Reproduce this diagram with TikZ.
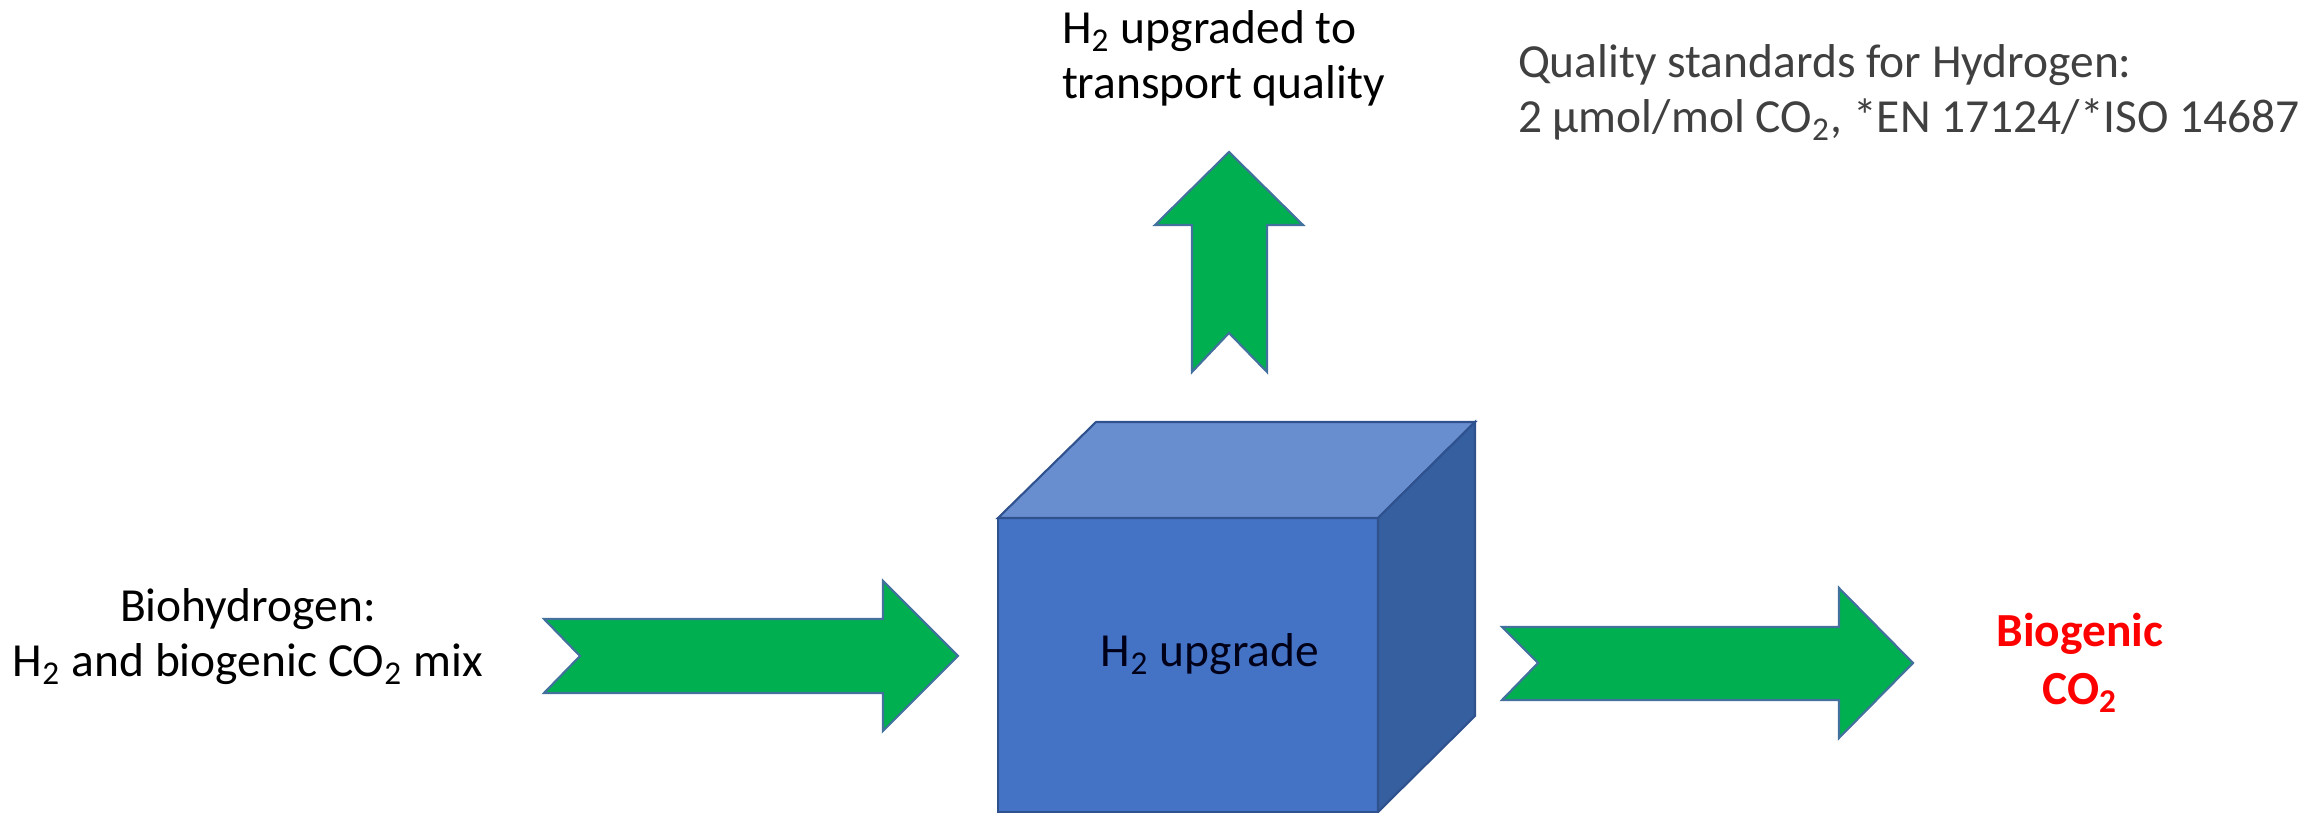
\documentclass[tikz,border=0pt]{standalone}
\usepackage{fontspec}
\setmainfont{Carlito}
\definecolor{arrgreen}{HTML}{00B050}
\definecolor{arredge}{HTML}{41719C}
\definecolor{cubefront}{HTML}{4472C4}
\definecolor{cubetop}{HTML}{698ED0}
\definecolor{cubeside}{HTML}{365F9F}
\definecolor{cubeedge}{HTML}{2F528F}
\definecolor{greytext}{HTML}{404040}
\definecolor{redtext}{HTML}{FF0000}
\begin{document}
\begin{tikzpicture}[x=0.01cm,y=-0.01cm,
  flowarrow/.style={fill=arrgreen, draw=arredge, line width=0.6pt, line join=miter},
  cubeface/.style={draw=cubeedge, line width=0.6pt, line join=miter},
  lbl/.style={font=\fontsize{13.5}{15.65}\selectfont, inner sep=0pt, outer sep=0pt}]
\useasboundingbox (0,0) rectangle (2320,813);

% cube
\coordinate (fTL) at (998,518);
\coordinate (fTR) at (1378,518);
\coordinate (fBR) at (1378,812);
\coordinate (fBL) at (998,812);
\coordinate (bTL) at (1096,422);
\coordinate (bTR) at (1475,422);
\coordinate (bBR) at (1475,716);
\fill[cubefront, cubeface] (fTL) -- (fTR) -- (fBR) -- (fBL) -- cycle;
\fill[cubetop, cubeface] (fTL) -- (bTL) -- (bTR) -- (fTR) -- cycle;
\fill[cubeside, cubeface] (fTR) -- (bTR) -- (bBR) -- (fBR) -- cycle;
\node[lbl, anchor=base, text=black!90!blue] (cube) at (1210,667) {H\textsubscript{2} upgrade};

% arrows
\draw[flowarrow] (544,619) -- (883,619) -- (883,581) -- (958,656) -- (883,731) -- (883,693) -- (544,693) -- (580,656) -- cycle;
\draw[flowarrow] (1502,627) -- (1839,627) -- (1839,588) -- (1913,663) -- (1839,738) -- (1839,700) -- (1502,700) -- (1538,663) -- cycle;
\draw[flowarrow] (1192,372) -- (1192,225) -- (1155,225) -- (1229,152) -- (1303,225) -- (1267,225) -- (1267,372) -- (1229,333) -- cycle;

% labels (base anchor = baseline of the last line)
\node[lbl, anchor=base, align=center] (inlbl) at (248,677) {Biohydrogen:\\H\textsubscript{2} and biogenic CO\textsubscript{2} mix};
\node[lbl, anchor=base west, align=left] (uplbl) at (1062,99) {H\textsubscript{2} upgraded to\\transport quality};
\node[lbl, anchor=base west, align=left, text=greytext] (stdlbl) at (1518,133) {Quality standards for Hydrogen:\\2 µmol/mol CO\textsubscript{2}, *EN 17124/*ISO 14687};
\node[lbl, anchor=base, align=center, text=redtext, font=\fontsize{13.5}{16.5}\selectfont\bfseries] (outlbl) at (2080,705) {Biogenic\\CO\textsubscript{2}};
\end{tikzpicture}
\end{document}
